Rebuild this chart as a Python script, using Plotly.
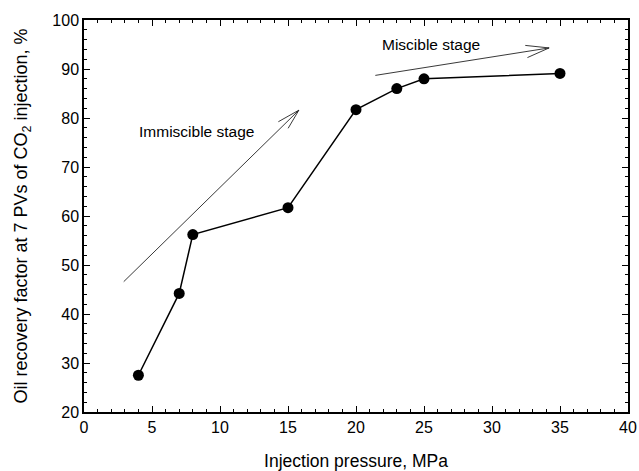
import math
import plotly.graph_objects as go

pressure = [4, 7, 8, 15, 20, 23, 25, 35]
recovery = [27.5, 44.2, 56.2, 61.7, 81.7, 86.0, 88.0, 89.1]

# arrows: (start x, start y, end x, end y)
arrow_immiscible = (2.7, 46.0, 15.8, 81.6)
arrow_miscible = (21.2, 88.6, 34.2, 94.3)
label_immiscible = ("Immiscible stage", 8.3, 77.3)
label_miscible = ("Miscible stage", 25.5, 95.0)

W, H = 639, 471
ML, MR, MT, MB = 84, 11, 20, 59
XR = (0, 40)
YR = (20, 100)
sx = (W - ML - MR) / (XR[1] - XR[0])
sy = (H - MT - MB) / (YR[1] - YR[0])

font = "Liberation Sans, Arial, sans-serif"

fig = go.Figure()
fig.add_trace(go.Scatter(
    x=pressure, y=recovery, mode="lines+markers",
    line=dict(color="black", width=1.5),
    marker=dict(color="black", size=11),
    showlegend=False,
))

annotations = []
for (x0, y0, x1, y1) in (arrow_immiscible, arrow_miscible):
    annotations.append(dict(
        x=x1, y=y1, ax=x0, ay=y0, xref="x", yref="y", axref="x", ayref="y",
        showarrow=True, arrowhead=0, arrowwidth=0.9, arrowcolor="#222", text=" "))
    # barbs in pixel space
    dxp = (x1 - x0) * sx
    dyp = -(y1 - y0) * sy
    ang = math.atan2(dyp, dxp)
    L = 27
    for da in (math.radians(15), -math.radians(15)):
        a = ang + math.pi + da
        annotations.append(dict(
            x=x1, y=y1, ax=L * math.cos(a), ay=L * math.sin(a),
            xref="x", yref="y", axref="pixel", ayref="pixel",
            showarrow=True, arrowhead=0, arrowwidth=0.9, arrowcolor="#222", text=" "))

for (t, x, y) in (label_immiscible, label_miscible):
    annotations.append(dict(x=x, y=y, xref="x", yref="y", text=t, showarrow=False,
                            font=dict(family=font, size=15.5, color="black")))

axis_common = dict(
    showline=True, linecolor="black", linewidth=1.5, mirror="ticks",
    ticks="inside", ticklen=6, tickwidth=1.2, tickcolor="black",
    showgrid=False, zeroline=False, automargin=False,
    tickfont=dict(family=font, size=16, color="black"),
)

fig.update_layout(
    template="none",
    width=W, height=H,
    margin=dict(l=ML, r=MR, t=MT, b=MB),
    plot_bgcolor="white", paper_bgcolor="white",
    xaxis=dict(range=list(XR), dtick=5, tick0=0,
               minor=dict(dtick=1, ticks="inside", ticklen=3, tickwidth=1, tickcolor="black"),
               title=dict(text="Injection pressure, MPa", font=dict(family=font, size=17.5, color="black"), standoff=20),
               **axis_common),
    yaxis=dict(range=list(YR), dtick=10, tick0=20,
               minor=dict(dtick=2, ticks="inside", ticklen=3, tickwidth=1, tickcolor="black"),
               title=dict(text="Oil recovery factor at 7 PVs of CO<sub>2</sub> injection, %",
                          font=dict(family=font, size=18, color="black"), standoff=20),
               **axis_common),
    annotations=annotations,
)

fig.write_html("out.html")
